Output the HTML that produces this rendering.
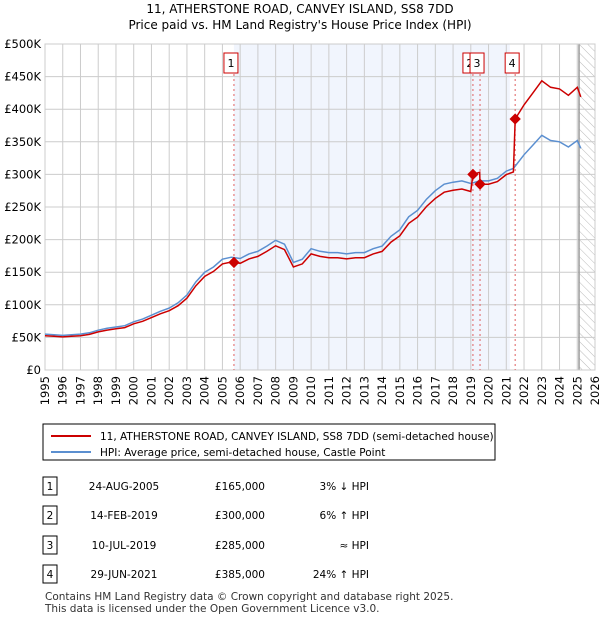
<!DOCTYPE html>
<html><head><meta charset="utf-8"><style>
body{margin:0;background:#fff;font-family:"Liberation Sans","DejaVu Sans",sans-serif;}
svg text{font-family:"DejaVu Sans","Liberation Sans",sans-serif;}
</style></head><body>
<svg id="c" width="600" height="620" viewBox="0 0 600 620" xmlns="http://www.w3.org/2000/svg">
<defs><pattern id="hatch" width="6" height="6" patternUnits="userSpaceOnUse" patternTransform="rotate(-45)"><line x1="0" y1="0" x2="0" y2="6" stroke="#bbb" stroke-width="1"/></pattern></defs>
<text x="300" y="13" text-anchor="middle" font-size="12">11, ATHERSTONE ROAD, CANVEY ISLAND, SS8 7DD</text>
<text x="300" y="29" text-anchor="middle" font-size="12">Price paid vs. HM Land Registry's House Price Index (HPI)</text>
<g id="plot"></g>
<rect x="43" y="424" width="452" height="36" fill="#fff" stroke="#000" stroke-width="1"/>
<line x1="51" y1="436" x2="91" y2="436" stroke="#cc0000" stroke-width="2"/>
<text x="100" y="440" font-size="10.5">11, ATHERSTONE ROAD, CANVEY ISLAND, SS8 7DD (semi-detached house)</text>
<line x1="51" y1="452" x2="91" y2="452" stroke="#5b8fd0" stroke-width="2"/>
<text x="100" y="456" font-size="10.5">HPI: Average price, semi-detached house, Castle Point</text>
<g id="tbl" font-size="10.5"></g>
<text x="45" y="600" font-size="10.5" fill="#333">Contains HM Land Registry data © Crown copyright and database right 2025.</text>
<text x="45" y="612" font-size="10.5" fill="#333">This data is licensed under the Open Government Licence v3.0.</text>
</svg>
<script>
const hpiYears=[1995,1995.5,1996,1996.5,1997,1997.5,1998,1998.5,1999,1999.5,2000,2000.5,2001,2001.5,2002,2002.5,2003,2003.5,2004,2004.5,2005,2005.5,2006,2006.5,2007,2007.5,2008,2008.5,2009,2009.5,2010,2010.5,2011,2011.5,2012,2012.5,2013,2013.5,2014,2014.5,2015,2015.5,2016,2016.5,2017,2017.5,2018,2018.5,2019,2019.5,2020,2020.5,2021,2021.4,2022,2022.5,2023,2023.5,2024,2024.5,2025,2025.2];
const hpiValues=[55,54,53,54,55,57,61,64,66,68,74,78,84,90,95,103,115,135,150,158,170,173,171,178,182,190,199,193,165,170,186,182,180,180,178,180,180,186,190,205,215,235,245,262,275,285,288,290,286,290,290,294,305,309,330,345,360,352,350,342,352,340];
const saleYears=[2005.65,2019.12,2019.52,2021.5];
const salePrices=[165,300,285,385];
const saleLabels=["1","2","3","4"];
const saleDates=["24-AUG-2005","14-FEB-2019","10-JUL-2019","29-JUN-2021"];
const salePriceText=["£165,000","£300,000","£285,000","£385,000"];
const saleHpiText=["3% ↓ HPI","6% ↑ HPI","≈ HPI","24% ↑ HPI"];
const yTicks=[0,50,100,150,200,250,300,350,400,450,500];
const yTickLabels=["£0","£50K","£100K","£150K","£200K","£250K","£300K","£350K","£400K","£450K","£500K"];
const xTicks=[1995,1996,1997,1998,1999,2000,2001,2002,2003,2004,2005,2006,2007,2008,2009,2010,2011,2012,2013,2014,2015,2016,2017,2018,2019,2020,2021,2022,2023,2024,2025,2026];

const X0=45,X1=595,Y0=370,Y1=44;
const x=v=>X0+(v-1995)*(X1-X0)/31;
const y=v=>Y0-v*(Y0-Y1)/500;
const NS="http://www.w3.org/2000/svg";
const plot=document.getElementById('plot');
function mk(tag,attrs,parent){const e=document.createElementNS(NS,tag);for(const k in attrs)e.setAttribute(k,attrs[k]);(parent||plot).appendChild(e);return e;}
function hpiAt(t){for(let i=0;i<hpiYears.length-1;i++){if(t<=hpiYears[i+1]){const f=(t-hpiYears[i])/(hpiYears[i+1]-hpiYears[i]);return hpiValues[i]+f*(hpiValues[i+1]-hpiValues[i]);}}return hpiValues[hpiValues.length-1];}

let e=mk('rect',{x:x(2005.65),y:Y1,width:x(2021.2)-x(2005.65),height:Y0-Y1,fill:'#eef3fc',opacity:0.8});


e=mk('rect',{x:x(2025.1),y:Y1,width:X1-x(2025.1),height:Y0-Y1,fill:'url(#hatch)'});


xTicks.forEach((t,i)=>{
 let g=mk('line',{x1:x(t),x2:x(t),y1:Y1,y2:Y0,stroke:'#ccc','stroke-width':1});
 
 
 let tx=mk('text',{x:0,y:0,'font-size':11.5,'text-anchor':'end',transform:`translate(${x(t)+4},${Y0+6}) rotate(-90)`});
 tx.textContent=t;
 
 
});
yTicks.forEach((v,i)=>{
 let g=mk('line',{x1:X0,x2:X1,y1:y(v),y2:y(v),stroke:'#ccc','stroke-width':1});
 
 
 let tx=mk('text',{x:X0-4,y:y(v)+4,'font-size':11.5,'text-anchor':'end'});
 tx.textContent=yTickLabels[i];
 
 
});
e=mk('line',{x1:x(2025.1),x2:x(2025.1),y1:Y1,y2:Y0,stroke:'#999','stroke-width':1.5});


e=mk('rect',{x:X0,y:Y1,width:X1-X0,height:Y0-Y1,fill:'none',stroke:'#ccc'});



saleYears.forEach((t,i)=>{
 let l=mk('line',{x1:x(t),x2:x(t),y1:Y1+20,y2:Y0,stroke:'#e06060','stroke-width':1,'stroke-dasharray':'2,3'});
 
 
});

let hp=hpiYears.map((t,i)=>`${x(t).toFixed(1)},${y(hpiValues[i]).toFixed(1)}`).join(' ');
e=mk('polyline',{points:hp,fill:'none',stroke:'#5b8fd0','stroke-width':1.5});



const rpts=[];
const ts=hpiYears.concat(saleYears).sort((a,b)=>a-b);
ts.forEach(t=>{
 let k=-1;for(let i=0;i<saleYears.length;i++)if(t>=saleYears[i])k=i;
 const ref=k<0?0:k;
 const v=hpiAt(t)*salePrices[ref]/hpiAt(saleYears[ref]);
 rpts.push(`${x(t).toFixed(1)},${y(v).toFixed(1)}`);
});
e=mk('polyline',{points:rpts.join(' '),fill:'none',stroke:'#cc0000','stroke-width':1.5});



saleYears.forEach((t,i)=>{
 let d=mk('rect',{x:x(t)-4,y:y(salePrices[i])-4,width:8,height:8,fill:'#cc0000',transform:`rotate(45 ${x(t)} ${y(salePrices[i])})`});
 
 
 const bx=x(t)-10;
 let b=mk('rect',{x:bx,y:53,width:14,height:20,fill:'#fff',stroke:'#cc0000'});
 
 
 let tx=mk('text',{x:bx+7,y:67,'font-size':11,'text-anchor':'middle'});
 tx.textContent=saleLabels[i];
 
 
});

const tbl=document.getElementById('tbl');
const rowY=[486,515,545,574];
saleLabels.forEach((lab,i)=>{
 const ry=rowY[i];
 let b=mk('rect',{x:43,y:ry-9,width:14,height:18,fill:'#fff',stroke:'#000'},tbl);
 
 
 let t=mk('text',{x:50,y:ry+4,'text-anchor':'middle'},tbl);t.textContent=lab;
 
 
 t=mk('text',{x:124,y:ry+4,'text-anchor':'middle'},tbl);t.textContent=saleDates[i];
 
 
 t=mk('text',{x:265,y:ry+4,'text-anchor':'end'},tbl);t.textContent=salePriceText[i];
 
 
 t=mk('text',{x:369,y:ry+4,'text-anchor':'end'},tbl);t.textContent=saleHpiText[i];
 
 
});
</script>
</body></html>
